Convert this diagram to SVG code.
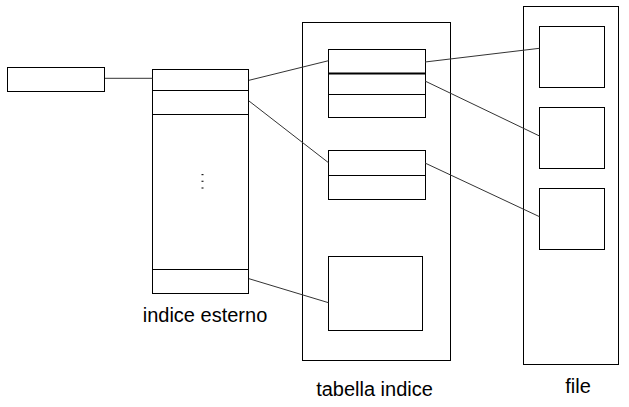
<svg xmlns="http://www.w3.org/2000/svg" width="629" height="407" viewBox="0 0 629 407">
<style>
.b{fill:#fff;stroke:#000;stroke-width:1}
.l{fill:none;stroke:#000;stroke-width:1}
.c{fill:none;stroke:#333;stroke-width:1}
.d{fill:#222}
text{font-family:"Liberation Sans",Arial,sans-serif;font-size:20px;fill:#000;text-anchor:middle}
</style>
<rect width="629" height="407" fill="#fff"/>
<g id="tabella-indice">
<rect class="b" x="302.5" y="22.5" width="148" height="338"/>
<text x="374.5" y="395.7">tabella indice</text>
</g>
<g id="file">
<rect class="b" x="523.5" y="6.5" width="95" height="358"/>
<text x="578" y="393.3">file</text>
</g>
<g id="puntatore">
<rect class="b" x="7.5" y="67.5" width="97" height="24"/>
</g>
<g id="indice-esterno">
<rect class="b" x="152.5" y="69.5" width="96" height="224"/>
<line class="l" x1="152.5" y1="90.5" x2="248.5" y2="90.5"/>
<line class="l" x1="152.5" y1="114.5" x2="248.5" y2="114.5"/>
<line class="l" x1="152.5" y1="269.5" x2="248.5" y2="269.5"/>
<rect class="d" x="201.5" y="174" width="2" height="1.2"/>
<rect class="d" x="201.5" y="180.7" width="2" height="1.2"/>
<rect class="d" x="201.5" y="187.4" width="2" height="1.2"/>
<text x="205" y="321.7">indice esterno</text>
</g>
<g id="blocco1">
<rect class="b" x="328.5" y="49.5" width="97" height="68"/>
<line x1="328.5" y1="73.5" x2="425.5" y2="73.5" stroke="#000" stroke-width="2"/>
<line class="l" x1="328.5" y1="94.5" x2="425.5" y2="94.5"/>
</g>
<g id="blocco2">
<rect class="b" x="328.5" y="150.5" width="97" height="49"/>
<line class="l" x1="328.5" y1="175.5" x2="425.5" y2="175.5"/>
</g>
<g id="blocco3">
<rect class="b" x="328.5" y="256.5" width="94" height="74"/>
</g>
<g id="file1"><rect class="b" x="539.5" y="26.5" width="65" height="61"/></g>
<g id="file2"><rect class="b" x="539.5" y="107.5" width="65" height="61"/></g>
<g id="file3"><rect class="b" x="539.5" y="188.5" width="65" height="61"/></g>
<g id="connectors">
<line class="c" x1="105" y1="78.3" x2="152.5" y2="78.3"/>
<line class="c" x1="249" y1="80.3" x2="328.5" y2="60.7"/>
<line class="c" x1="249" y1="101" x2="328.5" y2="162.7"/>
<line class="c" x1="249" y1="278.7" x2="328.5" y2="302.7"/>
<line class="c" x1="425" y1="62" x2="539.5" y2="48.3"/>
<line class="c" x1="425" y1="81" x2="539.5" y2="136"/>
<line class="c" x1="425" y1="163" x2="539.5" y2="216.7"/>
</g>
</svg>
